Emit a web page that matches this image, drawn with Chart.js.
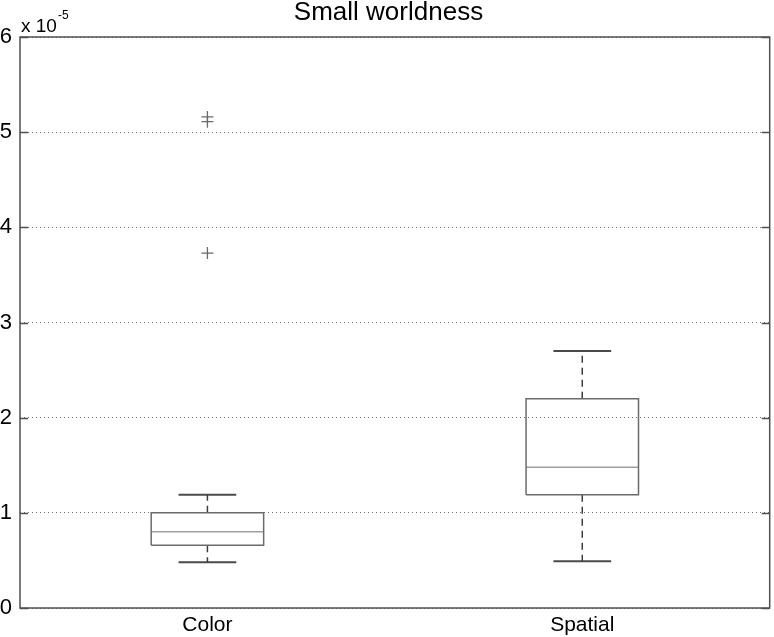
<!DOCTYPE html>
<html>
<head>
<meta charset="utf-8">
<script src="https://cdn.jsdelivr.net/npm/chart.js@4.4.1/dist/chart.umd.min.js"></script>
<style>
  html, body { margin: 0; padding: 0; background: #fff; overflow: hidden; }
  #wrap { width: 774px; height: 637px; overflow: hidden; }
</style>
</head>
<body>
<div id="wrap"><canvas id="chart" width="777" height="637"></canvas></div>
<script>
// ===== DATA (values in units of 1e-5) =====
const categories = ['Color', 'Spatial'];
const positions = [1, 2];
const lowerWhisker = [0.48, 0.49];
const q1 = [0.66, 1.19];
const median = [0.80, 1.48];
const q3 = [1.00, 2.20];
const upperWhisker = [1.19, 2.70];
const outliers = [[5.16, 5.11, 3.73], []];
const yTicks = [0, 1, 2, 3, 4, 5, 6];

const BOX_HALF = 0.15;
const CAP_HALF = 0.077;
const FONT = '"Liberation Sans", Arial, sans-serif';

// build line datasets for each box from the stats arrays
function boxDatasets() {
    const sets = [];
    positions.forEach((p, i) => {
        // box outline
        sets.push({
            data: [
                { x: p - BOX_HALF, y: q1[i] }, { x: p + BOX_HALF, y: q1[i] },
                { x: p + BOX_HALF, y: q3[i] }, { x: p - BOX_HALF, y: q3[i] },
                { x: p - BOX_HALF, y: q1[i] }
            ],
            borderColor: '#6b6b6b', borderWidth: 1.5
        });
        // median
        sets.push({
            data: [{ x: p - BOX_HALF, y: median[i] }, { x: p + BOX_HALF, y: median[i] }],
            borderColor: '#a0a0a0', borderWidth: 1.5
        });
        // whiskers (dashed)
        sets.push({
            data: [{ x: p, y: q3[i] }, { x: p, y: upperWhisker[i] }],
            borderColor: '#3c3c3c', borderWidth: 1.5, borderDash: [7, 5]
        });
        sets.push({
            data: [{ x: p, y: q1[i] }, { x: p, y: lowerWhisker[i] }],
            borderColor: '#3c3c3c', borderWidth: 1.5, borderDash: [7, 5]
        });
        // caps
        sets.push({
            data: [{ x: p - CAP_HALF, y: upperWhisker[i] }, { x: p + CAP_HALF, y: upperWhisker[i] }],
            borderColor: '#4a4a4a', borderWidth: 2
        });
        sets.push({
            data: [{ x: p - CAP_HALF, y: lowerWhisker[i] }, { x: p + CAP_HALF, y: lowerWhisker[i] }],
            borderColor: '#4a4a4a', borderWidth: 2
        });
        // outliers
        if (outliers[i].length) {
            sets.push({
                data: outliers[i].map(v => ({ x: p, y: v })),
                showLine: false, pointStyle: 'cross', pointRadius: 6,
                pointBorderColor: '#6b6b6b', pointBorderWidth: 1.3
            });
        }
    });
    return sets.map(s => Object.assign({ showLine: true, pointRadius: 0, fill: false }, s));
}

// frame, inward ticks and the exponent label
const framePlugin = {
    id: 'frame',
    afterDatasetsDraw(chart) {
        const { ctx, chartArea: a, scales } = chart;
        ctx.save();
        ctx.strokeStyle = '#505050';
        ctx.lineWidth = 1.5;
        ctx.strokeRect(a.left, a.top, a.right - a.left, a.bottom - a.top);
        ctx.beginPath();
        yTicks.forEach(v => {
            const y = Math.round(scales.y.getPixelForValue(v)) + 0.5;
            ctx.moveTo(a.left, y); ctx.lineTo(a.left + 8, y);
            ctx.moveTo(a.right, y); ctx.lineTo(a.right - 8, y);
        });
        ctx.stroke();

        ctx.fillStyle = '#000';
        ctx.textBaseline = 'alphabetic';
        ctx.textAlign = 'left';
        ctx.font = '19px ' + FONT;
        ctx.fillText('x 10', 21, 32);
        const w = ctx.measureText('x 10').width;
        ctx.font = '12px ' + FONT;
        ctx.fillText('-5', 21 + w + 1, 19);
        ctx.restore();
    }
};

const ctx = document.getElementById('chart').getContext('2d');
new Chart(ctx, {
    type: 'scatter',
    data: { datasets: boxDatasets() },
    options: {
        responsive: false,
        animation: false,
        layout: { padding: 0 },
        plugins: {
            legend: { display: false },
            tooltip: { enabled: false },
            title: {
                display: true, text: 'Small worldness', color: '#000',
                font: { family: FONT, size: 26, weight: 'normal', lineHeight: 1 },
                padding: { top: 0, bottom: 11 }
            }
        },
        scales: {
            x: {
                type: 'linear', min: 0.5, max: 2.5,
                afterBuildTicks(scale) { scale.ticks = positions.map(v => ({ value: v })); },
                afterFit(scale) { scale.height = 29; },
                grid: { display: false, drawTicks: false },
                border: { display: false },
                ticks: {
                    color: '#000', padding: 5,
                    font: { family: FONT, size: 21 },
                    callback: v => categories[positions.indexOf(v)] ?? ''
                }
            },
            y: {
                min: 0, max: 6,
                afterBuildTicks(scale) { scale.ticks = yTicks.map(v => ({ value: v })); },
                afterFit(scale) { scale.width = 20; },
                grid: {
                    drawTicks: false, color: '#707070', lineWidth: 1
                },
                border: { display: false, dash: [1, 3] },
                ticks: {
                    color: '#000', padding: 8,
                    font: { family: FONT, size: 22 }
                }
            }
        }
    },
    plugins: [framePlugin]
});
</script>
</body>
</html>
